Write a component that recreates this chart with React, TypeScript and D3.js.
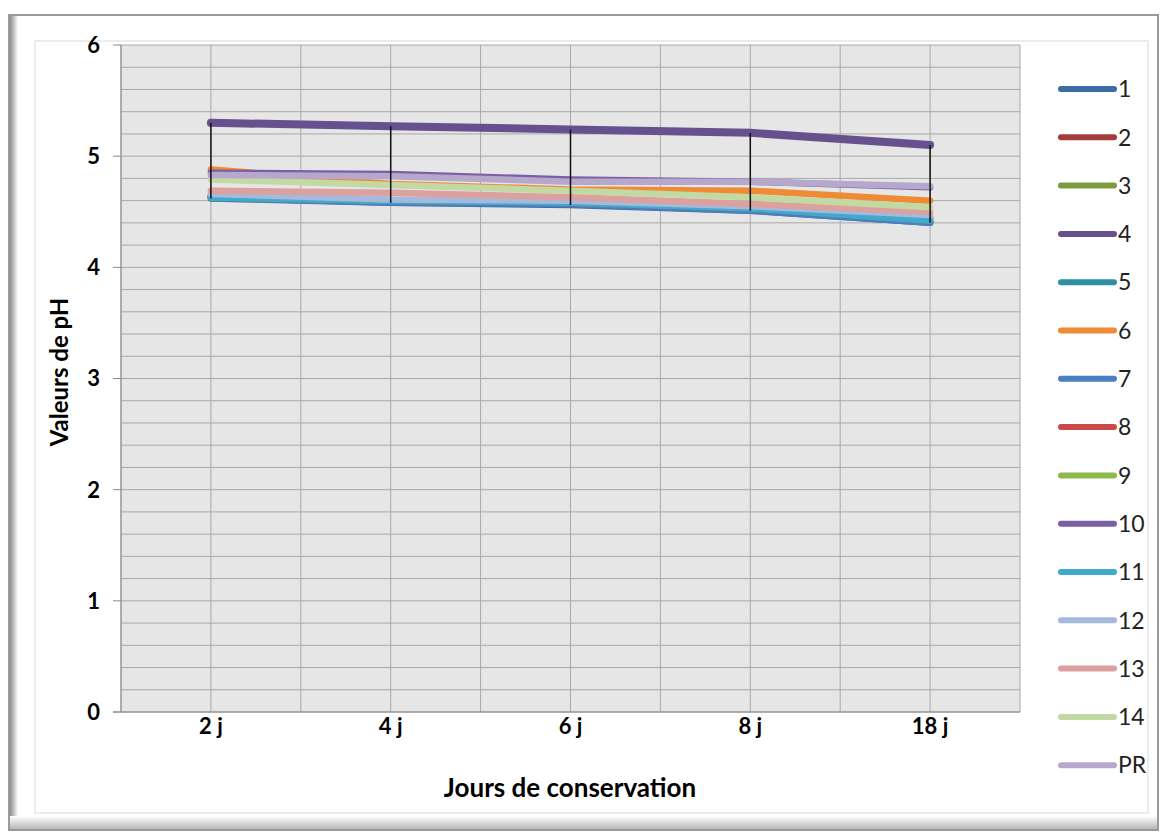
import React from "react";
import * as d3 from "d3";

// Storage days on the x axis
const categories = ["2 j", "4 j", "6 j", "8 j", "18 j"];

// pH readings per sample, one value per storage day
const s1 = [4.63, 4.58, 4.56, 4.51, 4.4];
const s2 = [4.64, 4.6, 4.57, 4.52, 4.41];
const s3 = [4.62, 4.59, 4.58, 4.53, 4.44];
const s4 = [5.3, 5.27, 5.24, 5.21, 5.1];
const s5 = [4.63, 4.59, 4.57, 4.52, 4.41];
const s6 = [4.88, 4.75, 4.7, 4.69, 4.6];
const s7 = [4.62, 4.58, 4.57, 4.51, 4.4];
const s8 = [4.64, 4.6, 4.58, 4.53, 4.42];
const s9 = [4.63, 4.6, 4.59, 4.54, 4.45];
const s10 = [4.85, 4.84, 4.79, 4.77, 4.72];
const s11 = [4.63, 4.6, 4.58, 4.53, 4.42];
const s12 = [4.66, 4.61, 4.6, 4.55, 4.47];
const s13 = [4.69, 4.67, 4.63, 4.57, 4.5];
const s14 = [4.79, 4.74, 4.69, 4.63, 4.54];
const sPR = [4.83, 4.82, 4.77, 4.77, 4.73];

const seriesNames = ["1", "2", "3", "4", "5", "6", "7", "8", "9", "10", "11", "12", "13", "14", "PR"];
const seriesValues = [s1, s2, s3, s4, s5, s6, s7, s8, s9, s10, s11, s12, s13, s14, sPR];
const seriesColors = [
  "#3B6CA6", "#A33C3A", "#7A9B40", "#66508D", "#2F8FA3", "#EF8A35", "#4A7EC4", "#C94A47",
  "#8EB94B", "#7B5FA6", "#3FAACA", "#A4B9DC", "#DCA09E", "#C3D9A3", "#B6A8CC",
];

const yTicks = [0, 1, 2, 3, 4, 5, 6];
const yMinorStep = 0.2;

const FONT = "Lato, 'Open Sans', sans-serif";

export default function App() {
  const W = 1162;
  const H = 832;
  const plot = { left: 121, right: 1020, top: 45, bottom: 712 };

  const x = d3.scaleBand<string>().domain(categories).range([plot.left, plot.right]);
  const y = d3.scaleLinear().domain([0, 6]).range([plot.bottom, plot.top]);
  const cx = (c: string) => (x(c) ?? 0) + x.bandwidth() / 2;

  const line = d3
    .line<number>()
    .x((_, i) => cx(categories[i]))
    .y((d) => y(d));

  const minor = d3.range(0, 6 + 1e-9, yMinorStep).map((v) => +v.toFixed(2));
  const vGrid: number[] = [];
  categories.forEach((c) => {
    vGrid.push(x(c) ?? 0);
    vGrid.push(cx(c));
  });
  vGrid.push(plot.right);

  // high-low lines spanning all samples at each day
  const hiLo = categories.map((c, i) => {
    const vals = seriesValues.map((s) => s[i]);
    return { c, hi: d3.max(vals) as number, lo: d3.min(vals) as number };
  });

  const legendTop = 89;
  const legendStep = 48.3;

  return (
    <svg
      width={W}
      height={H}
      style={{ position: "absolute", left: 0, top: 0 }}
      xmlns="http://www.w3.org/2000/svg"
    >
      <defs>
        <linearGradient id="bevelL" x1="0" x2="1" y1="0" y2="0">
          <stop offset="0" stopColor="#8c8c8c" />
          <stop offset="1" stopColor="#ffffff" />
        </linearGradient>
        <linearGradient id="bevelB" x1="0" x2="0" y1="0" y2="1">
          <stop offset="0" stopColor="#ffffff" />
          <stop offset="1" stopColor="#b8b8b8" />
        </linearGradient>
      </defs>
      <rect x={0} y={0} width={W} height={H} fill="#ffffff" />
      {/* chart frame */}
      <rect x={9} y={15} width={1149} height={815} fill="#ffffff" stroke="#9a9a9a" strokeWidth={2} />
      <rect x={10} y={16} width={8} height={813} fill="url(#bevelL)" />
      <rect x={10} y={816} width={1147} height={13} fill="url(#bevelB)" />
      <rect x={35} y={41} width={1113} height={772} fill="none" stroke="#e6e6e6" strokeWidth={1.5} />

      {/* plot area */}
      <rect
        x={plot.left}
        y={plot.top}
        width={plot.right - plot.left}
        height={plot.bottom - plot.top}
        fill="#e6e6e6"
      />
      {minor.map((v) => (
        <line
          key={"h" + v}
          x1={plot.left}
          x2={plot.right}
          y1={y(v)}
          y2={y(v)}
          stroke="#a8a8a8"
          strokeWidth={1}
        />
      ))}
      {vGrid.map((gx, i) => (
        <line key={"v" + i} x1={gx} x2={gx} y1={plot.top} y2={plot.bottom} stroke="#a8a8a8" strokeWidth={1} />
      ))}
      {/* axes */}
      <line x1={plot.left} x2={plot.left} y1={plot.top} y2={plot.bottom} stroke="#8a8a8a" strokeWidth={1} />
      <line x1={113} x2={plot.right} y1={plot.bottom} y2={plot.bottom} stroke="#8a8a8a" strokeWidth={1} />
      {yTicks.map((t) => (
        <g key={"yt" + t}>
          <line x1={113} x2={plot.left} y1={y(t)} y2={y(t)} stroke="#8a8a8a" strokeWidth={1} />
          <text
            x={100}
            y={y(t)}
            dy="0.36em"
            textAnchor="end"
            fontFamily={FONT}
            fontWeight="bold"
            fontSize={22}
            fill="#000"
          >
            {t}
          </text>
        </g>
      ))}
      {categories.map((c) => (
        <text
          key={"xt" + c}
          x={cx(c)}
          y={734}
          textAnchor="middle"
          fontFamily={FONT}
          fontWeight="bold"
          fontSize={22}
          fill="#000"
        >
          {c}
        </text>
      ))}

      {/* series */}
      {seriesValues.map((s, i) => (
        <path
          key={"s" + i}
          d={line(s) ?? ""}
          fill="none"
          stroke={seriesColors[i]}
          strokeWidth={i === 3 ? 8 : 6.5}
          strokeLinecap="round"
          strokeLinejoin="round"
        />
      ))}
      {hiLo.map((h) => (
        <line
          key={"hl" + h.c}
          x1={cx(h.c)}
          x2={cx(h.c)}
          y1={y(h.hi)}
          y2={y(h.lo)}
          stroke="#111"
          strokeWidth={1.5}
        />
      ))}

      {/* axis titles */}
      <text
        x={570}
        y={797}
        textAnchor="middle"
        fontFamily={FONT}
        fontWeight="bold"
        fontSize={26}
        fill="#000"
      >
        Jours de conservation
      </text>
      <text
        transform="translate(68,372) rotate(-90)"
        textAnchor="middle"
        fontFamily={FONT}
        fontWeight="bold"
        fontSize={24}
        fill="#000"
      >
        Valeurs de pH
      </text>

      {/* legend */}
      {seriesNames.map((n, i) => {
        const ly = legendTop + i * legendStep;
        return (
          <g key={"lg" + n}>
            <line
              x1={1061}
              x2={1114}
              y1={ly}
              y2={ly}
              stroke={seriesColors[i]}
              strokeWidth={6}
              strokeLinecap="round"
            />
            <text x={1118} y={ly} dy="0.36em" fontFamily={FONT} fontSize={23} fill="#222">
              {n}
            </text>
          </g>
        );
      })}
    </svg>
  );
}
